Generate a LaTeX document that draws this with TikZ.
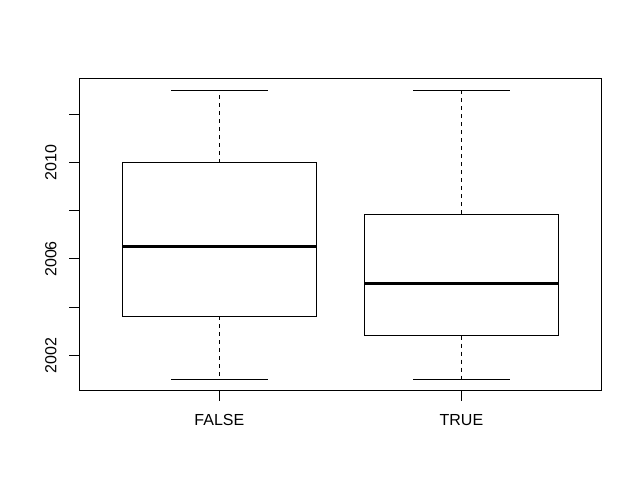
\documentclass[tikz,border=0pt]{standalone}
\usepackage{fontspec}
\setmainfont{Liberation Sans}

\begin{document}
\begin{tikzpicture}[x=181.5pt, y=18.075pt, line width=0.75pt,
    lbl/.style={font=\fontsize{12}{14}\selectfont, inner sep=0pt}]

    % Plot region (years counted from 2000)
    \def\xmin{0.42}
    \def\xmax{2.58}
    \def\ymin{0.52}
    \def\ymax{13.48}
    \def\bw{0.4}  % half box width
    \def\cw{0.2}  % half cap width
    \def\tk{7.2pt}

    \useasboundingbox (0.0934,-3.548) rectangle (2.7463,16.743);

    % Frame
    \draw (\xmin,\ymin) rectangle (\xmax,\ymax);

    % Axis ticks
    \foreach \y in {2,4,...,12}
        \draw (\xmin,\y) -- ++(-\tk,0);
    \foreach \y/\t in {2/2002,6/2006,10/2010}
        \node[lbl, rotate=90] (y\y) at (0.304,\y) {\t};

    % Boxes
    \foreach \c/\lo/\qa/\md/\qb/\hi/\lab in {1/1/3.62/6.5/10/13/FALSE, 2/1/2.82/5/7.86/13/TRUE} {
        \draw (\c-\bw,\qa) rectangle (\c+\bw,\qb);
        \draw[line width=2.25pt] (\c-\bw,\md) -- (\c+\bw,\md);
        \draw[dash pattern=on 3pt off 3pt] (\c,\qb) -- (\c,\hi);
        \draw[dash pattern=on 3pt off 3pt] (\c,\qa) -- (\c,\lo);
        \draw (\c-\cw,\hi) -- (\c+\cw,\hi);
        \draw (\c-\cw,\lo) -- (\c+\cw,\lo);
        \draw (\c,\ymin) -- ++(0,-\tk);
        \node[lbl] (x\c) at (\c,-0.685) {\lab};
    }

\end{tikzpicture}
\end{document}
